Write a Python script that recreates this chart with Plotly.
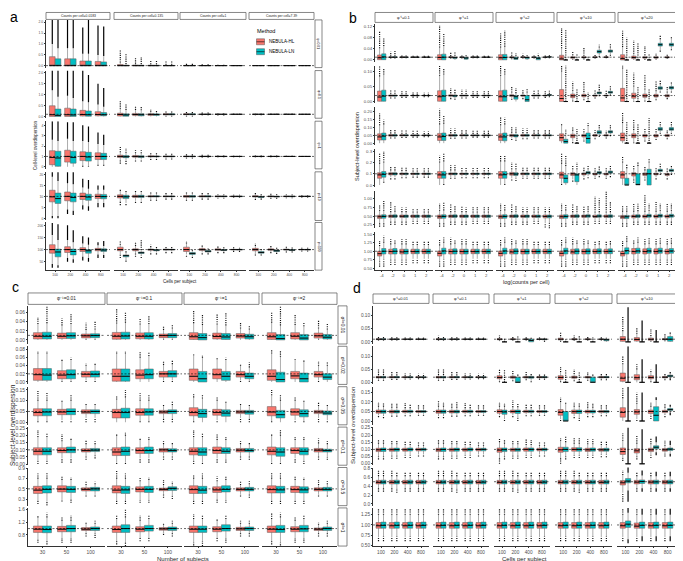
import plotly.graph_objects as go

W, H = 683, 561
HL_COLOR = "#F8766D"
LN_COLOR = "#00BFC4"
FONT = "Liberation Sans"

# Each box: (lowest outlier, lower whisker, q1, median, q3, upper whisker, highest outlier)

# ---------------- panel a (values in data units) ----------------
A_COL_LABELS = ["Counts per cell=0.0183", "Counts per cell=0.135", "Counts per cell=1", "Counts per cell=7.39"]
A_ROW_LABELS = ["φ=0.01", "φ=0.1", "φ=1", "φ=10", "φ=100"]
A_TRUE = [0.01, 0.1, 1, 10, 100]
A_X_LABELS = ["100", "200", "400", "800"]
A_HL = [
    [[(0,0,0,0.01,0.42,1.0,2.1),(0,0,0,0.01,0.32,0.8,2.1),(0,0,0,0.01,0.22,0.55,1.75),(0,0,0,0.01,0.2,0.5,1.85)],
     [(0,0,0,0.01,0.06,0.15,0.75),(0,0,0,0.01,0.04,0.1,0.4),(0,0,0,0.01,0.03,0.07,0.27),(0,0,0,0.01,0.02,0.05,0.22)],
     [(0,0,0,0.01,0.02,0.04,0.1),(0,0,0.002,0.01,0.015,0.03,0.07),(0,0,0.004,0.01,0.014,0.025,0.05),(0,0,0.006,0.01,0.013,0.02,0.04)],
     [(0,0,0.006,0.01,0.013,0.02,0.03),(0,0.002,0.007,0.01,0.012,0.017,0.025),(0,0.004,0.008,0.01,0.011,0.015,0.02),(0.002,0.005,0.009,0.01,0.011,0.014,0.018)]],
    [[(0,0,0,0.08,0.49,1.2,2.1),(0,0,0,0.08,0.38,0.95,2.1),(0,0,0.02,0.09,0.28,0.7,2.1),(0,0,0.03,0.09,0.22,0.55,1.5)],
     [(0,0,0.02,0.09,0.15,0.35,0.75),(0,0,0.04,0.09,0.14,0.3,0.45),(0,0,0.05,0.095,0.13,0.22,0.33),(0,0.02,0.07,0.1,0.12,0.18,0.28)],
     [(0,0.02,0.08,0.1,0.12,0.16,0.22),(0.03,0.05,0.09,0.1,0.11,0.14,0.18),(0.05,0.07,0.095,0.1,0.105,0.125,0.15),(0.07,0.08,0.097,0.1,0.103,0.115,0.13)],
     [(0.06,0.075,0.095,0.1,0.105,0.125,0.14),(0.07,0.08,0.097,0.1,0.103,0.115,0.13),(0.08,0.085,0.098,0.1,0.102,0.11,0.12),(0.085,0.09,0.099,0.1,0.101,0.107,0.115)]],
    [[(0,0,0.2,0.9,1.55,2.6,4.4),(0,0,0.45,1.0,1.6,2.7,4.3),(0,0.1,0.6,1.0,1.45,2.5,4.0),(0.1,0.2,0.7,1.0,1.35,2.2,3.3)],
     [(0.3,0.6,0.9,1.0,1.12,1.4,1.9),(0.5,0.7,0.92,1.0,1.08,1.3,1.6),(0.65,0.8,0.95,1.0,1.06,1.2,1.4),(0.7,0.85,0.96,1.0,1.04,1.15,1.3)],
     [(0.8,0.88,0.97,1.0,1.03,1.1,1.2),(0.85,0.9,0.98,1.0,1.02,1.07,1.15),(0.9,0.93,0.985,1.0,1.015,1.05,1.1),(0.93,0.95,0.99,1.0,1.01,1.04,1.07)],
     [(0.9,0.93,0.985,1.0,1.015,1.05,1.1),(0.92,0.95,0.99,1.0,1.01,1.04,1.08),(0.94,0.96,0.992,1.0,1.008,1.03,1.06),(0.95,0.97,0.995,1.0,1.005,1.02,1.05)]],
    [[(0,1,7.5,9.8,12.8,19,21),(2,4,8,10,12,16,21),(4,6,8.6,10,11.5,14,18),(5,7,9,10,11,13,15)],
     [(6,7.5,9.3,10,10.7,12.5,13.5),(7,8,9.5,10,10.5,12,13),(8,8.5,9.7,10,10.3,11.3,12),(8.5,9,9.8,10,10.2,11,11.5)],
     [(8,8.5,9.6,10,10.4,11.3,12),(8.5,9,9.7,10,10.3,11,11.5),(9,9.3,9.8,10,10.2,10.7,11),(9.3,9.5,9.85,10,10.15,10.5,10.8)],
     [(8.3,8.8,9.7,10,10.3,11,11.7),(8.8,9.2,9.8,10,10.2,10.8,11.2),(9.2,9.4,9.85,10,10.15,10.6,10.9),(9.4,9.6,9.9,10,10.1,10.4,10.6)]],
    [[(25,40,85,100,120,160,210),(50,65,88,100,112,140,200),(55,70,92,100,108,125,155),(65,80,95,100,105,118,130)],
     [(65,80,95,100,110,120,135),(70,85,95,100,103,115,130),(80,88,97,100,102,110,120),(85,92,98,100,102,106,112)],
     [(70,80,92,100,110,125,135),(80,88,96,100,104,112,120),(85,92,97,100,103,108,115),(90,94,99,100,101,105,110)],
     [(75,85,95,100,105,115,125),(85,90,97,100,103,110,118),(88,92,98,100,102,107,112),(92,95,99,100,101,104,108)]],
]
A_LN = [
    [[(0,0,0,0.01,0.32,0.8,2.1),(0,0,0,0.01,0.32,0.8,2.1),(0,0,0,0.01,0.22,0.55,2.1),(0,0,0,0.01,0.18,0.45,1.8)],
     [(0,0,0,0.01,0.03,0.08,0.55),(0,0,0,0.01,0.03,0.08,0.4),(0,0,0,0.01,0.03,0.07,0.27),(0,0,0,0.01,0.02,0.05,0.2)],
     [(0,0,0,0.01,0.02,0.04,0.1),(0,0,0.002,0.01,0.015,0.03,0.07),(0,0,0.004,0.01,0.014,0.025,0.05),(0,0,0.006,0.01,0.013,0.02,0.04)],
     [(0,0,0.006,0.01,0.013,0.02,0.03),(0,0.002,0.007,0.01,0.012,0.017,0.025),(0,0.004,0.008,0.01,0.011,0.015,0.02),(0.002,0.005,0.009,0.01,0.011,0.014,0.018)]],
    [[(0,0,0,0.05,0.34,0.9,2.1),(0,0,0,0.07,0.34,0.85,2.1),(0,0,0.01,0.08,0.25,0.65,1.9),(0,0,0.03,0.08,0.18,0.45,1.3)],
     [(0,0,0.01,0.07,0.12,0.3,0.6),(0,0,0.03,0.08,0.13,0.28,0.45),(0,0,0.05,0.09,0.12,0.2,0.3),(0,0.02,0.07,0.1,0.12,0.18,0.28)],
     [(0,0.02,0.08,0.1,0.12,0.16,0.22),(0.03,0.05,0.09,0.1,0.11,0.14,0.18),(0.05,0.07,0.095,0.1,0.105,0.125,0.15),(0.07,0.08,0.097,0.1,0.103,0.115,0.13)],
     [(0.06,0.075,0.095,0.1,0.105,0.125,0.14),(0.07,0.08,0.097,0.1,0.103,0.115,0.13),(0.08,0.085,0.098,0.1,0.102,0.11,0.12),(0.085,0.09,0.099,0.1,0.101,0.107,0.115)]],
    [[(0,0,0.05,0.85,1.5,2.5,4.4),(0,0,0.35,0.9,1.5,2.5,4.3),(0,0.05,0.55,0.95,1.4,2.4,3.9),(0.1,0.2,0.7,1.0,1.3,2.1,3.1)],
     [(0.25,0.55,0.88,0.97,1.08,1.35,1.8),(0.5,0.7,0.9,0.98,1.07,1.3,1.6),(0.65,0.8,0.95,1.0,1.05,1.2,1.4),(0.7,0.85,0.96,1.0,1.04,1.15,1.3)],
     [(0.8,0.88,0.97,1.0,1.03,1.1,1.2),(0.85,0.9,0.98,1.0,1.02,1.07,1.15),(0.9,0.93,0.985,1.0,1.015,1.05,1.1),(0.93,0.95,0.99,1.0,1.01,1.04,1.07)],
     [(0.9,0.93,0.985,1.0,1.015,1.05,1.1),(0.92,0.95,0.99,1.0,1.01,1.04,1.08),(0.94,0.96,0.992,1.0,1.008,1.03,1.06),(0.95,0.97,0.995,1.0,1.005,1.02,1.05)]],
    [[(0,1,6.8,9.0,11.5,17,21),(1.5,3.5,7.5,9.5,11.5,15.5,21),(3.5,5.5,8.2,9.7,11,13.5,17.5),(5,7,8.9,9.9,10.9,13,15)],
     [(6,7,9,9.8,10.5,12,13),(7,8,9.5,10,10.5,12,13),(8,8.5,9.7,10,10.3,11.3,12),(8.5,9,9.8,10,10.2,11,11.5)],
     [(8,8.5,9.6,10,10.4,11.3,12),(8.5,9,9.7,10,10.3,11,11.5),(9,9.3,9.8,10,10.2,10.7,11),(9.3,9.5,9.85,10,10.15,10.5,10.8)],
     [(8.5,9,9.5,9.8,10,10.5,11),(8.8,9.2,9.7,9.9,10.1,10.6,11),(9.2,9.4,9.8,10,10.15,10.6,10.9),(9.4,9.6,9.9,10,10.1,10.4,10.6)]],
    [[(25,35,70,90,102,140,205),(45,60,78,92,102,130,180),(50,65,85,95,100,120,150),(65,78,92,98,103,115,135)],
     [(50,60,70,75,78,88,95),(65,75,84,87,90,98,140),(80,88,95,98,100,106,115),(85,92,98,100,101,106,112)],
     [(65,70,80,84,88,95,102),(80,85,90,93,96,100,108),(85,90,96,98,100,105,112),(90,94,98,100,101,104,108)],
     [(75,80,85,88,92,98,105),(82,88,92,95,98,103,110),(88,92,96,98,100,104,110),(92,95,98,100,101,104,107)]],
]

# ---------------- panel b (values in % of the true sigma^2) ----------------
B_COL_LABELS = ["φ⁻¹=0.1", "φ⁻¹=1", "φ⁻¹=2", "φ⁻¹=10", "φ⁻¹=20"]
B_ROW_LABELS = ["σ²=0.01", "σ²=0.02", "σ²=0.05", "σ²=0.1", "σ²=0.5", "σ²=1"]
B_TRUE = [0.01, 0.02, 0.05, 0.1, 0.5, 1]
B_X_LABELS = ["-4", "-2", "0", "1", "2"]
B_HL_PCT = [
    [[(0,0,10,80,180,420,1050),(50,70,90,100,110,130,300),(60,80,93,100,107,120,200),(70,85,95,100,105,115,170),(75,88,96,100,104,112,160)],
     [(0,0,10,90,190,450,1250),(40,60,85,100,115,140,300),(50,75,92,100,108,125,200),(60,80,94,100,106,120,180),(70,85,95,100,105,115,160)],
     [(0,0,5,80,190,450,950),(30,50,75,95,115,150,280),(40,65,88,100,112,135,220),(50,75,92,100,108,125,200),(60,80,94,100,106,120,180)],
     [(0,0,0,40,170,420,1150),(0,20,60,90,120,170,300),(20,50,75,95,115,150,450),(50,70,85,98,115,140,200),(60,80,90,100,112,130,180)],
     [(0,0,0,50,190,470,1050),(0,10,50,90,140,220,700),(0,30,65,90,120,170,500),(20,40,65,90,120,160,250),(40,60,75,95,115,150,220)]],
    [[(0,0,5,75,175,420,600),(50,70,90,100,110,130,200),(60,80,94,100,106,120,170),(65,85,95,100,105,115,160),(70,88,96,100,104,112,150)],
     [(0,0,5,80,180,430,600),(40,60,88,100,112,140,220),(50,70,92,100,108,125,200),(60,80,94,100,106,120,170),(60,80,94,100,106,120,170)],
     [(0,0,5,80,180,430,600),(30,55,85,100,115,150,250),(40,65,90,100,110,135,200),(50,70,92,100,108,125,180),(60,80,94,100,106,120,170)],
     [(0,0,0,50,200,500,600),(0,20,65,95,125,180,330),(20,45,80,100,120,160,330),(50,70,90,100,110,130,200),(60,80,93,100,108,125,180)],
     [(0,0,0,60,220,550,600),(0,10,55,90,140,250,480),(0,30,70,95,125,200,450),(20,45,75,95,120,170,350),(40,60,80,95,115,150,250)]],
    [[(0,0,40,80,120,230,380),(60,75,90,100,110,125,180),(65,80,92,100,108,120,170),(70,85,94,100,106,117,160),(75,88,95,100,105,115,150)],
     [(0,0,35,80,125,240,440),(55,70,90,100,110,128,190),(60,78,92,100,108,122,170),(70,84,94,100,106,118,160),(70,84,94,100,106,118,160)],
     [(0,0,35,80,120,230,340),(40,60,85,100,112,135,220),(50,70,90,100,110,128,190),(60,78,92,100,108,122,170),(60,78,92,100,108,122,170)],
     [(0,0,30,70,120,230,260),(0,20,70,95,115,160,200),(20,50,80,98,112,140,180),(50,70,90,100,110,130,170),(60,78,92,100,108,125,160)],
     [(0,0,30,70,130,260,400),(0,10,70,95,120,170,300),(20,50,80,98,112,140,190),(40,60,80,95,110,140,190),(50,70,85,97,112,135,170)]],
    [[(0,0,60,90,110,190,280),(50,70,90,100,110,130,170),(60,75,93,100,107,125,160),(65,80,94,100,106,120,155),(65,80,94,100,106,120,155)],
     [(0,0,60,90,120,200,260),(55,70,92,100,108,130,175),(60,78,94,100,106,122,160),(60,78,94,100,106,122,160),(60,78,94,100,106,122,160)],
     [(0,0,60,90,120,210,260),(40,60,88,100,112,140,200),(55,75,92,100,108,125,165),(55,75,92,100,108,125,165),(55,75,92,100,108,125,165)],
     [(0,10,60,90,115,190,280),(30,50,85,100,110,140,180),(50,70,90,100,108,125,160),(55,75,90,98,105,120,160),(55,75,90,98,105,120,160)],
     [(0,0,60,90,120,200,250),(20,50,80,100,110,140,180),(40,65,85,98,108,130,170),(50,70,90,98,105,120,160),(50,70,85,95,103,118,150)]],
    [[(40,60,86,96,105,130,160),(50,70,92,100,106,122,180),(50,70,92,99,106,122,150),(55,72,92,100,106,120,145),(55,72,92,100,106,120,145)],
     [(40,60,86,96,106,130,170),(50,70,92,100,106,122,170),(50,70,92,100,106,122,160),(55,72,92,100,106,120,150),(55,72,92,100,106,120,150)],
     [(40,60,86,96,106,130,170),(50,70,92,100,106,122,170),(50,70,92,99,106,122,150),(55,72,92,99,106,120,150),(35,60,90,98,106,122,150)],
     [(40,60,86,96,106,130,170),(50,70,92,100,106,122,170),(50,70,92,100,106,122,160),(55,72,92,97,105,120,210),(55,72,92,99,106,120,240)],
     [(40,60,86,95,104,125,160),(50,70,90,98,106,125,170),(50,70,90,98,106,125,220),(50,70,90,98,106,125,180),(50,70,90,98,106,125,170)]],
    [[(55,70,86,93,100,115,130),(60,75,92,99,106,120,135),(60,75,92,98,106,120,135),(65,78,93,99,106,118,130),(65,78,93,99,106,118,130)],
     [(55,70,86,94,101,117,135),(60,75,92,99,106,120,140),(60,75,92,99,106,120,135),(65,78,93,99,106,118,130),(65,78,93,99,106,118,130)],
     [(55,70,86,94,101,117,135),(60,75,92,98,106,120,135),(60,75,92,99,106,120,135),(65,78,93,99,106,118,130),(65,78,93,99,106,118,130)],
     [(55,70,86,94,101,117,135),(60,75,92,98,106,120,140),(60,75,92,99,106,120,135),(65,78,93,99,106,118,130),(65,78,93,99,106,118,130)],
     [(55,70,86,93,100,115,130),(60,75,92,99,108,122,135),(60,75,92,99,107,120,135),(60,75,92,99,107,120,135),(60,75,92,99,106,120,135)]],
]
B_LN_PCT = [
    [[(0,0,10,110,220,500,800),(50,70,90,100,112,130,320),(60,80,93,100,108,122,190),(70,85,95,100,105,115,170),(75,88,96,100,104,112,160)],
     [(0,0,5,100,210,500,950),(0,0,50,85,110,150,280),(0,0,30,70,95,130,180),(60,80,93,100,107,120,170),(70,85,95,100,105,115,160)],
     [(0,0,5,90,200,480,1050),(0,0,20,60,100,150,250),(0,0,40,90,105,130,200),(0,0,5,60,95,140,220),(60,85,100,110,118,130,190)],
     [(0,0,0,0,0,0,1100),(0,0,0,0,0,0,200),(0,0,0,0,0,0,150),(100,150,250,300,350,450,550),(150,200,280,320,360,450,600)],
     [(0,0,0,0,0,0,800),(0,0,0,0,0,0,600),(0,0,0,0,0,0,200),(300,350,500,550,600,750,900),(350,400,500,550,600,780,850)]],
    [[(0,0,5,90,190,450,560),(50,70,90,100,110,130,200),(60,80,94,100,106,120,170),(65,85,95,100,105,115,160),(70,88,96,100,104,112,150)],
     [(0,0,5,90,190,450,560),(30,50,80,95,110,140,200),(50,70,92,100,108,125,200),(60,80,94,100,106,120,170),(60,80,94,100,106,120,170)],
     [(0,0,5,80,190,450,550),(0,0,40,80,100,140,220),(0,0,0,30,100,150,220),(50,70,92,100,110,130,190),(70,90,100,110,118,130,180)],
     [(0,0,0,0,0,0,600),(0,0,0,0,0,0,200),(0,0,0,0,0,0,150),(90,110,130,145,160,190,280),(100,120,140,155,170,200,260)],
     [(0,0,0,0,0,0,550),(0,0,0,0,0,0,250),(0,0,0,0,0,0,200),(150,180,205,225,245,290,350),(150,180,210,230,250,300,340)]],
    [[(0,0,40,90,130,240,300),(60,75,90,100,110,125,180),(65,80,92,100,108,120,170),(70,85,94,100,106,117,160),(75,88,95,100,105,115,150)],
     [(0,0,35,85,130,250,350),(55,70,90,100,110,128,190),(60,78,92,100,108,122,170),(70,84,94,100,106,118,160),(70,84,94,100,106,118,160)],
     [(0,0,30,80,130,240,330),(30,50,80,95,110,135,200),(50,70,90,100,110,128,190),(60,78,92,100,108,122,170),(60,78,92,100,108,122,170)],
     [(0,0,0,20,50,120,180),(0,0,0,0,0,0,180),(0,0,0,60,130,220,260),(80,100,120,140,160,190,240),(90,110,130,145,160,190,230)],
     [(0,0,0,0,0,0,280),(0,0,0,0,0,0,250),(0,0,0,0,0,0,320),(120,140,165,180,200,230,280),(120,145,165,180,200,230,270)]],
    [[(20,30,70,95,120,200,300),(50,70,90,100,110,130,170),(60,75,93,100,107,125,160),(65,80,94,100,106,120,155),(65,80,94,100,106,120,155)],
     [(0,10,60,90,120,210,290),(55,70,92,100,108,130,175),(60,78,94,100,106,122,160),(60,78,94,100,106,122,160),(60,78,94,100,106,122,160)],
     [(0,10,60,92,120,210,270),(35,55,85,97,110,140,190),(55,75,92,100,108,125,165),(55,75,92,100,108,125,165),(55,75,92,100,108,125,165)],
     [(0,0,20,60,90,170,260),(0,0,30,90,100,140,200),(60,80,100,110,120,140,180),(70,85,100,110,120,135,170),(70,90,105,115,125,140,180)],
     [(0,0,0,0,60,150,180),(0,0,0,5,100,170,200),(0,0,0,100,140,200,230),(90,105,120,130,140,160,190),(90,105,120,130,140,160,180)]],
    [[(40,62,88,98,108,130,185),(50,70,92,100,107,125,160),(50,70,92,100,106,122,150),(55,72,92,100,106,120,145),(55,72,92,100,106,120,145)],
     [(40,60,88,98,108,132,180),(50,70,92,100,107,124,160),(50,70,92,100,106,122,150),(55,72,92,100,106,120,150),(55,72,92,100,106,120,150)],
     [(40,60,88,98,108,132,170),(50,70,92,100,107,124,160),(50,70,92,100,106,122,150),(55,72,92,99,106,120,150),(30,60,90,99,106,122,150)],
     [(40,60,88,98,108,132,170),(50,70,92,100,107,124,160),(50,70,93,101,108,124,160),(55,72,93,100,107,122,200),(55,72,92,100,107,122,180)],
     [(40,60,86,96,104,125,160),(50,70,92,100,108,128,170),(50,70,94,102,110,130,170),(50,70,94,102,110,130,170),(50,70,94,102,110,130,170)]],
    [[(55,75,92,100,108,125,145),(60,75,92,100,108,122,135),(60,75,92,99,106,120,135),(65,78,93,99,106,118,130),(65,78,93,99,106,118,130)],
     [(55,75,92,101,109,125,140),(60,75,92,100,107,122,135),(60,75,92,99,106,120,135),(65,78,93,99,106,118,130),(65,78,93,99,106,118,130)],
     [(55,75,92,101,109,125,140),(60,75,92,100,107,122,135),(60,75,92,99,106,120,135),(65,78,93,99,106,118,130),(65,78,93,99,106,118,130)],
     [(55,75,92,101,109,125,140),(60,75,92,100,107,122,135),(60,75,92,100,107,122,135),(65,78,93,100,107,120,130),(65,78,93,100,107,120,130)],
     [(55,75,92,102,110,128,145),(60,75,94,101,109,125,140),(60,75,94,101,109,122,140),(60,75,94,101,109,122,140),(60,75,94,101,108,122,140)]],
]

# ---------------- panel c (values in % of the true sigma^2) ----------------
C_COL_LABELS = ["φ⁻¹=0.01", "φ⁻¹=0.1", "φ⁻¹=1", "φ⁻¹=2"]
C_ROW_LABELS = ["σ²=0.01", "σ²=0.02", "σ²=0.05", "σ²=0.1", "σ²=0.5", "σ²=1"]
C_TRUE = [0.01, 0.02, 0.05, 0.1, 0.5, 1]
C_X_LABELS = ["30", "50", "100"]
C_HL_PCT = [
    [[(0,0,20,80,160,350,500),(0,0,30,80,150,320,480),(0,10,45,90,130,220,380)],
     [(0,0,15,80,165,360,700),(0,0,25,80,155,340,480),(0,10,50,95,130,220,320)],
     [(0,0,10,70,160,370,650),(0,0,20,75,150,340,570),(0,0,40,85,140,250,380)],
     [(0,0,10,70,160,380,600),(0,0,20,80,160,330,560),(0,10,40,90,150,250,420)]],
    [[(0,0,20,90,165,350,380),(0,10,40,85,140,260,280),(0,20,60,95,130,200,230)],
     [(0,0,10,70,160,350,380),(0,0,40,85,150,300,380),(0,20,60,100,130,210,260)],
     [(0,0,20,70,160,330,340),(0,0,40,90,160,280,300),(0,20,60,90,130,200,220)],
     [(0,0,20,70,150,350,390),(0,0,40,75,130,270,280),(0,20,60,90,130,200,260)]],
    [[(0,10,60,90,125,200,290),(0,20,70,95,120,190,210),(0,40,80,95,115,160,180)],
     [(0,0,40,90,120,210,240),(0,10,65,90,125,200,270),(0,30,80,95,110,150,170)],
     [(0,10,60,90,135,230,260),(0,20,65,90,120,200,240),(0,40,80,95,110,160,170)],
     [(0,10,60,95,145,250,300),(0,20,65,95,125,200,230),(0,40,80,95,110,150,190)]],
    [[(0,20,65,90,115,190,240),(10,40,80,95,115,160,210),(30,55,85,95,108,140,170)],
     [(0,10,60,85,115,200,210),(10,40,75,95,115,170,180),(30,60,85,100,110,140,160)],
     [(0,20,65,90,115,190,240),(10,40,75,95,120,170,210),(30,55,85,98,110,140,160)],
     [(0,10,65,90,120,200,210),(10,40,75,95,115,170,190),(30,55,85,98,110,145,180)]],
    [[(40,55,82,95,110,140,160),(50,60,88,99,112,135,150),(70,80,92,98,104,115,130)],
     [(40,55,84,95,112,140,170),(45,55,88,98,108,130,145),(65,80,93,98,103,115,135)],
     [(40,55,82,97,112,140,155),(45,60,86,96,108,130,150),(70,80,92,98,104,115,130)],
     [(40,55,84,97,112,140,165),(40,55,86,97,110,135,150),(70,80,92,98,104,115,135)]],
    [[(55,65,88,98,108,135,140),(55,70,90,98,107,125,135),(75,85,94,98,103,115,120)],
     [(50,60,88,97,108,130,140),(60,70,90,98,106,125,140),(80,88,95,99,103,112,115)],
     [(40,55,88,98,108,130,145),(60,70,90,98,106,125,130),(75,85,94,99,104,115,125)],
     [(50,60,88,98,108,130,150),(55,70,90,98,106,125,135),(75,85,94,98,102,112,120)]],
]
C_LN_PCT = [
    [[(0,0,20,80,170,370,750),(0,0,30,90,160,350,580),(0,10,50,95,135,230,420)],
     [(0,0,20,85,170,380,600),(0,0,20,80,160,350,520),(0,10,50,100,140,250,330)],
     [(0,0,0,50,140,330,550),(0,0,10,65,140,320,590),(0,0,20,70,125,230,330)],
     [(0,0,0,30,120,320,740),(0,0,0,40,120,300,380),(0,0,20,60,120,230,350)]],
    [[(0,0,20,85,165,350,380),(0,10,40,90,150,270,300),(0,20,60,95,135,210,230)],
     [(0,0,10,70,160,350,380),(0,0,40,90,160,320,370),(0,20,60,100,140,220,270)],
     [(0,0,0,40,130,300,330),(0,0,20,70,130,270,300),(0,10,40,70,110,180,240)],
     [(0,0,0,30,120,310,380),(0,0,0,40,110,250,270),(0,0,30,60,100,200,240)]],
    [[(0,10,60,95,125,200,280),(0,20,70,100,125,200,260),(0,40,80,100,115,160,180)],
     [(0,0,40,90,130,230,300),(0,10,65,95,125,200,260),(0,30,80,100,115,160,190)],
     [(0,0,45,80,120,220,260),(0,0,55,85,115,180,200),(0,30,75,95,110,150,170)],
     [(0,0,40,70,110,200,250),(0,10,50,80,115,190,200),(0,20,70,85,105,150,160)]],
    [[(0,20,65,90,115,190,220),(10,40,80,100,120,170,180),(40,60,88,98,110,140,160)],
     [(0,10,60,90,120,200,220),(10,40,75,95,120,170,190),(30,60,85,95,108,140,150)],
     [(0,10,60,85,115,190,220),(10,30,75,90,115,170,190),(30,55,85,95,110,140,150)],
     [(0,10,55,85,115,200,240),(0,20,65,90,115,170,190),(30,50,85,95,105,140,160)]],
    [[(35,50,84,98,112,140,165),(45,60,86,98,110,135,145),(70,80,92,100,106,118,128)],
     [(40,55,82,96,110,140,160),(45,55,86,98,110,135,145),(60,75,94,102,108,120,130)],
     [(40,55,82,95,110,140,160),(45,55,88,98,112,135,150),(65,80,92,98,106,118,130)],
     [(40,55,84,96,110,140,165),(40,55,84,96,108,135,145),(70,80,92,98,106,118,130)]],
    [[(50,60,87,97,108,135,150),(55,70,90,100,110,125,140),(70,85,94,100,105,115,125)],
     [(45,55,88,100,112,135,160),(60,70,92,100,110,130,140),(75,85,94,100,105,115,125)],
     [(45,60,88,98,108,130,140),(55,70,92,100,112,130,140),(75,85,94,100,105,115,125)],
     [(40,55,88,97,110,135,150),(55,70,90,99,110,130,140),(75,85,94,100,105,115,125)]],
]

# ---------------- panel d (values in % of the true sigma^2) ----------------
D_COL_LABELS = ["φ⁻¹=0.01", "φ⁻¹=0.1", "φ⁻¹=1", "φ⁻¹=2", "φ⁻¹=10"]
D_ROW_LABELS = ["σ²=0.01", "σ²=0.02", "σ²=0.05", "σ²=0.1", "σ²=0.5", "σ²=1"]
D_TRUE = [0.01, 0.02, 0.05, 0.1, 0.5, 1]
D_X_LABELS = ["100", "200", "400", "800"]
D_HL_PCT = [
    [[(40,60,85,100,115,140,200),(50,70,88,100,112,130,180),(60,75,90,100,110,125,170),(65,80,92,100,108,120,160)],
     [(40,60,85,100,115,140,230),(50,70,88,100,112,130,180),(60,75,90,100,110,125,170),(65,80,92,100,108,120,160)],
     [(30,50,80,100,120,150,250),(40,60,85,100,115,140,200),(50,70,88,100,112,130,180),(60,75,90,100,110,125,170)],
     [(0,30,70,100,140,220,350),(30,50,80,100,120,150,250),(40,60,85,100,115,140,200),(50,70,88,100,112,130,170)],
     [(0,0,20,100,200,400,950),(0,0,30,90,160,300,550),(0,20,60,95,140,220,480),(20,50,80,100,120,160,300)]],
    [[(30,55,85,100,115,145,250),(45,65,88,100,112,135,210),(55,72,90,100,110,128,180),(60,78,92,100,108,122,170)],
     [(30,55,85,100,115,145,250),(45,65,88,100,112,135,210),(55,72,90,100,110,128,180),(60,78,92,100,108,122,170)],
     [(0,30,70,95,130,180,250),(20,50,80,100,120,160,220),(40,60,85,100,115,140,200),(50,70,88,100,112,130,170)],
     [(0,20,60,95,130,200,300),(20,50,80,100,120,160,250),(30,55,85,100,115,150,200),(40,65,88,100,112,140,180)],
     [(0,0,20,80,180,350,500),(0,0,50,90,150,250,350),(0,20,70,95,130,200,250),(40,60,88,100,112,140,170)]],
    [[(40,60,82,98,115,150,200),(45,65,85,98,112,140,190),(50,70,88,100,112,135,190),(55,75,90,100,110,130,170)],
     [(30,55,82,98,115,150,220),(45,65,85,98,112,140,190),(50,70,88,100,112,135,190),(55,75,90,100,110,130,170)],
     [(40,60,82,100,118,150,200),(40,60,85,100,115,145,220),(50,70,88,100,112,135,180),(55,75,90,100,110,130,170)],
     [(0,20,60,90,120,200,250),(30,50,80,98,115,150,200),(40,60,85,100,112,140,200),(50,70,88,100,110,130,170)],
     [(0,0,40,90,140,240,350),(0,20,70,95,120,180,300),(20,50,80,100,115,150,200),(40,65,88,100,112,140,180)]],
    [[(30,50,85,97,108,140,170),(35,55,87,98,108,135,165),(40,60,88,98,108,130,160),(50,65,90,99,108,125,150)],
     [(30,50,85,97,108,140,170),(35,55,87,98,108,135,165),(40,60,88,98,108,130,160),(50,65,90,99,108,125,150)],
     [(0,40,80,95,110,150,180),(35,55,87,98,108,135,165),(40,60,88,100,110,130,170),(50,65,90,99,108,125,155)],
     [(0,40,80,97,115,160,180),(40,60,88,100,112,140,180),(40,60,86,97,108,135,170),(45,62,88,97,106,130,160)],
     [(20,40,65,85,110,160,210),(30,50,75,90,105,140,200),(40,60,85,97,108,135,180),(50,70,88,97,106,125,160)]],
    [[(55,70,90,97,106,125,150),(55,70,90,97,106,125,150),(55,70,90,97,106,125,145),(55,70,90,97,106,125,145)],
     [(55,70,90,97,106,125,150),(55,70,90,97,106,125,150),(55,70,90,97,106,125,145),(55,70,90,97,106,125,145)],
     [(55,70,90,97,106,125,150),(55,70,90,97,106,125,150),(55,70,90,97,106,125,145),(55,70,90,97,106,125,145)],
     [(55,70,90,97,106,125,150),(55,70,90,97,106,125,150),(55,70,90,97,106,125,145),(55,70,90,97,106,125,145)],
     [(10,50,85,95,105,130,150),(55,70,90,98,106,125,145),(55,70,90,98,106,125,145),(55,70,90,98,106,125,145)]],
    [[(60,70,92,98,106,125,140),(60,70,92,98,106,125,140),(60,70,92,98,106,125,140),(60,70,92,98,106,125,140)],
     [(60,70,92,98,106,125,140),(60,70,92,98,106,125,140),(60,70,92,98,106,125,140),(60,70,92,98,106,125,140)],
     [(60,70,92,98,106,125,140),(60,70,92,98,106,125,140),(60,70,92,98,106,125,140),(60,70,92,98,106,125,140)],
     [(60,70,92,98,106,125,140),(60,70,92,98,106,125,140),(60,70,92,98,106,125,140),(60,70,92,98,106,125,140)],
     [(60,70,92,98,106,125,140),(60,70,92,97,105,125,140),(60,70,92,98,106,125,140),(60,70,92,98,106,125,140)]],
]
D_LN_PCT = [
    [[(40,60,85,100,115,140,200),(50,70,88,100,112,130,180),(60,75,90,100,110,125,170),(65,80,92,100,108,120,160)],
     [(40,60,85,100,115,140,200),(50,70,88,100,112,130,180),(60,75,90,100,110,125,170),(65,80,92,100,108,120,160)],
     [(0,0,0,0,0,0,120),(0,0,0,0,0,0,200),(0,0,0,50,100,120,150),(0,40,80,100,110,130,150)],
     [(0,0,0,0,0,0,100),(0,0,0,0,0,0,250),(0,0,0,0,0,0,180),(0,0,40,80,100,130,150)],
     [(0,0,0,0,0,0,1300),(0,0,0,0,0,0,800),(0,0,0,0,0,0,450),(0,0,20,100,200,300,350)]],
    [[(30,55,85,100,115,145,250),(45,65,88,100,112,135,210),(55,72,90,100,110,128,180),(60,78,92,100,108,122,170)],
     [(30,55,85,100,115,145,250),(45,65,88,100,112,135,210),(55,72,90,100,110,128,180),(60,78,92,100,108,122,170)],
     [(0,0,0,0,0,0,240),(0,0,0,0,100,130,160),(0,30,80,100,115,140,180),(50,70,88,100,112,130,170)],
     [(0,0,0,0,0,0,250),(0,0,0,0,0,0,200),(0,0,0,0,100,130,170),(40,65,90,100,112,140,180)],
     [(0,0,0,0,0,0,700),(0,0,0,0,0,0,450),(0,0,0,0,0,0,350),(40,80,110,125,140,170,200)]],
    [[(30,55,82,98,115,150,190),(45,65,85,98,112,140,190),(50,70,88,100,112,135,180),(55,75,90,100,110,130,170)],
     [(30,55,82,98,115,150,200),(45,65,85,98,112,140,200),(50,70,88,100,112,135,180),(55,75,90,100,110,130,170)],
     [(0,20,70,95,115,150,180),(0,40,80,100,115,145,180),(50,70,88,100,112,135,180),(55,75,90,100,110,130,170)],
     [(0,0,0,0,100,180,200),(0,40,80,100,115,150,190),(40,60,85,100,112,140,190),(50,70,88,100,110,130,170)],
     [(0,0,0,0,0,0,360),(0,0,0,0,0,0,300),(0,0,0,60,150,220,250),(60,90,110,120,130,150,170)]],
    [[(30,50,86,99,110,140,170),(35,55,88,99,109,135,165),(40,60,89,100,110,130,160),(50,65,90,100,108,125,150)],
     [(30,50,86,99,110,140,170),(35,55,88,99,109,135,165),(40,60,89,100,110,130,160),(50,65,90,100,108,125,150)],
     [(30,50,85,98,110,140,170),(35,55,87,98,108,135,165),(40,60,88,100,110,130,165),(50,65,90,100,108,125,150)],
     [(30,50,85,100,115,150,190),(40,60,88,100,112,140,180),(40,60,88,98,110,135,170),(45,62,88,97,108,130,160)],
     [(0,0,0,0,0,0,250),(0,0,0,0,0,0,240),(60,80,105,115,125,150,190),(50,70,92,102,110,130,160)]],
    [[(55,70,90,98,107,125,150),(50,70,90,98,107,125,145),(55,70,90,98,107,125,145),(55,70,90,98,107,125,145)],
     [(55,70,90,98,107,125,150),(50,70,90,98,107,125,145),(55,70,90,98,107,125,145),(55,70,90,98,107,125,145)],
     [(55,70,90,98,107,125,150),(50,70,90,98,107,125,145),(55,70,90,98,107,125,145),(55,70,90,98,107,125,145)],
     [(55,70,90,98,107,125,150),(50,70,90,98,107,125,145),(55,70,90,98,107,125,145),(55,70,90,98,107,125,145)],
     [(10,60,95,103,114,140,200),(55,70,92,101,108,128,150),(55,70,90,99,107,125,145),(55,70,90,98,107,125,145)]],
    [[(60,72,92,99,107,125,140),(60,72,92,99,107,125,140),(60,72,92,99,107,125,140),(60,72,92,99,107,125,140)],
     [(60,72,92,99,107,125,140),(60,72,92,99,107,125,140),(60,72,92,99,107,125,140),(60,72,92,99,107,125,140)],
     [(60,72,92,99,107,125,140),(60,72,92,99,107,125,140),(60,72,92,99,107,125,140),(60,72,92,99,107,125,140)],
     [(60,72,92,99,107,125,140),(60,72,92,99,107,125,140),(60,72,92,99,107,125,140),(60,72,92,99,107,125,140)],
     [(55,65,94,102,110,130,145),(60,72,92,99,107,125,140),(60,72,92,99,107,125,140),(60,72,92,99,107,125,140)]],
]

# ---------------- layout geometry (pixels) and axes ----------------
def rows_px(top, height, step, n):
    return [(top + k * step, top + k * step + height) for k in range(n)]

PANELS = [
    dict(cols_lab=A_COL_LABELS, rows_lab=A_ROW_LABELS, xlabels=A_X_LABELS, true=A_TRUE,
         hl=A_HL, ln=A_LN, unit=[1, 1, 1, 1, 1], dense_cols=[0],
         cols=[(38, 102), (106, 170), (172, 238), (241, 306)],
         rows=[(10, 58), (61, 109), (112, 160), (163, 212), (214, 262)],
         strip_y=(2.5, 9.5), rstrip_x=(307, 314),
         yranges=[[-0.08, 2.1], [-0.08, 2.1], [-0.2, 4.4], [-1, 21.2], [15, 212]],
         yticks=[[0, 0.5, 1, 1.5, 2], [0, 0.5, 1, 1.5, 2], [0, 1, 2, 3, 4], [0, 5, 10, 15, 20], [50, 100, 150, 200]],
         yticktext=[["0.0", "0.5", "1.0", "1.5", "2.0"], ["0.0", "0.5", "1.0", "1.5", "2.0"], ["0", "1", "2", "3", "4"],
                    ["0", "5", "10", "15", "20"], ["50", "100", "150", "200"]],
         tick=3.4, strip=3.4),
    dict(cols_lab=B_COL_LABELS, rows_lab=B_ROW_LABELS, xlabels=B_X_LABELS, true=B_TRUE,
         hl=B_HL_PCT, ln=B_LN_PCT, unit=[t / 100 for t in B_TRUE], dense_cols=[],
         cols=[(367, 425), (427, 485), (488, 546), (549, 607), (610, 668)],
         rows=rows_px(14, 38.0, 42.0, 6),
         strip_y=(2.5, 12.5), rstrip_x=(669, 677.5),
         yranges=[[-0.006, 0.13], [-0.006, 0.12], [-0.012, 0.23], [-0.015, 0.32], [0.15, 1.22], [0.45, 1.55]],
         yticks=[[0, 0.04, 0.08, 0.12], [0, 0.05, 0.1], [0, 0.05, 0.1, 0.15, 0.2], [0, 0.1, 0.2, 0.3],
                 [0.25, 0.5, 0.75, 1.0], [0.5, 0.75, 1.0, 1.25, 1.5]],
         yticktext=[["0.00", "0.04", "0.08", "0.12"], ["0.00", "0.05", "0.10"], ["0.00", "0.05", "0.10", "0.15", "0.20"],
                    ["0.0", "0.1", "0.2", "0.3"], ["0.25", "0.50", "0.75", "1.00"], ["0.50", "0.75", "1.00", "1.25", "1.50"]],
         tick=4.3, strip=4.0),
    dict(cols_lab=C_COL_LABELS, rows_lab=C_ROW_LABELS, xlabels=C_X_LABELS, true=C_TRUE,
         hl=C_HL_PCT, ln=C_LN_PCT, unit=[t / 100 for t in C_TRUE], dense_cols=[],
         cols=[(20, 97), (99, 174), (176, 251), (254, 329)],
         rows=rows_px(298, 38.4, 40.7, 6),
         strip_y=(285, 296.5), rstrip_x=(330, 339),
         yranges=[[-0.009, 0.075], [-0.006, 0.088], [-0.012, 0.165], [-0.008, 0.26], [0.17, 0.92], [0.45, 1.65]],
         yticks=[[0, 0.02, 0.04, 0.06], [0, 0.02, 0.04, 0.06, 0.08], [0, 0.05, 0.1, 0.15],
                 [0, 0.05, 0.1, 0.15, 0.2, 0.25], [0.3, 0.5, 0.7, 0.9], [0.8, 1.2, 1.6]],
         yticktext=[["0.00", "0.02", "0.04", "0.06"], ["0.00", "0.02", "0.04", "0.06", "0.08"], ["0.00", "0.05", "0.10", "0.15"],
                    ["0.00", "0.05", "0.10", "0.15", "0.20", "0.25"], ["0.3", "0.5", "0.7", "0.9"], ["0.8", "1.2", "1.6"]],
         tick=4.9, strip=4.8),
    dict(cols_lab=D_COL_LABELS, rows_lab=D_ROW_LABELS, xlabels=D_X_LABELS, true=D_TRUE,
         hl=D_HL_PCT, ln=D_LN_PCT, unit=[t / 100 for t in D_TRUE], dense_cols=[4],
         cols=[(365, 421), (425, 481), (486, 542), (547, 604), (609, 668)],
         rows=rows_px(298, 38.4, 40.7, 6),
         strip_y=(286, 295.5), rstrip_x=(669, 677.5),
         yranges=[[-0.008, 0.135], [-0.008, 0.14], [-0.02, 0.18], [-0.01, 0.255], [-0.04, 0.82], [0.48, 1.42]],
         yticks=[[0, 0.05, 0.1], [0, 0.05, 0.1], [0, 0.05, 0.1, 0.15], [0, 0.05, 0.1, 0.15, 0.2, 0.25],
                 [0, 0.2, 0.4, 0.6, 0.8], [0.5, 0.75, 1.0, 1.25]],
         yticktext=[["0.00", "0.05", "0.10"], ["0.00", "0.05", "0.10"], ["0.00", "0.05", "0.10", "0.15"],
                    ["0.00", "0.05", "0.10", "0.15", "0.20", "0.25"], ["0.0", "0.2", "0.4", "0.6", "0.8"],
                    ["0.50", "0.75", "1.00", "1.25"]],
         tick=4.7, strip=4.0),
]

fig = go.Figure()
layout = {}
shapes = []
annots = []
AXC = "#333333"
TXT = "#4d4d4d"
HALF = 0.1875


def px_x(p):
    return p / W


def px_y(p):
    return 1 - p / H


n = 0
for P in PANELS:
    nr, nc = len(P["rows"]), len(P["cols"])
    nx = len(P["xlabels"])
    for r in range(nr):
        for c in range(nc):
            n += 1
            xn = "x" if n == 1 else f"x{n}"
            yn = "y" if n == 1 else f"y{n}"
            xk = "xaxis" if n == 1 else f"xaxis{n}"
            yk = "yaxis" if n == 1 else f"yaxis{n}"
            bottom = r == nr - 1
            left = c == 0
            cx0, cx1 = P["cols"][c]
            ry0, ry1 = P["rows"][r]
            layout[xk] = dict(domain=[px_x(cx0), px_x(cx1)], range=[-0.6, nx - 0.4], anchor=yn,
                              tickvals=list(range(nx)), ticktext=P["xlabels"], showticklabels=bottom,
                              showline=bottom, linecolor=AXC, linewidth=0.7,
                              ticks="outside" if bottom else "", ticklen=1.2, tickwidth=0.5, tickcolor=AXC,
                              tickfont=dict(size=P["tick"], color=TXT, family=FONT),
                              showgrid=False, zeroline=False, fixedrange=True)
            layout[yk] = dict(domain=[px_y(ry1), px_y(ry0)], range=P["yranges"][r], anchor=xn,
                              tickvals=P["yticks"][r], ticktext=P["yticktext"][r], showticklabels=left,
                              showline=left, linecolor=AXC, linewidth=0.7,
                              ticks="outside" if left else "", ticklen=1.2, tickwidth=0.5, tickcolor=AXC,
                              tickfont=dict(size=P["tick"], color=TXT, family=FONT),
                              showgrid=False, zeroline=False, fixedrange=True)
            unit = P["unit"][r]
            med_x, med_y = [], []
            out = {True: ([], []), False: ([], [])}
            for boxes, colr, off, is_ln in ((P["hl"][r][c], HL_COLOR, -HALF, False), (P["ln"][r][c], LN_COLOR, HALF, True)):
                vals = [[v * unit for v in b] for b in boxes]
                xs = [i + off for i in range(len(vals))]
                fig.add_trace(go.Box(
                    x=xs, q1=[v[2] for v in vals], median=[v[3] for v in vals], q3=[v[4] for v in vals],
                    lowerfence=[v[1] for v in vals], upperfence=[v[5] for v in vals],
                    width=2 * HALF, fillcolor=colr, line=dict(color="#5a5a5a", width=0.5),
                    whiskerwidth=0, boxpoints=False, xaxis=xn, yaxis=yn,
                    showlegend=False, hoverinfo="skip"))
                dense = (c in P["dense_cols"]) and (P is PANELS[0] or is_ln)
                ox, oy = out[dense]
                for xv, v in zip(xs, vals):
                    med_x += [xv - HALF, xv + HALF, None]
                    med_y += [v[3], v[3], None]
                    if v[6] > v[5]:
                        ox += [xv, xv, None]
                        oy += [v[5], v[6], None]
                    if v[0] < v[1]:
                        ox += [xv, xv, None]
                        oy += [v[0], v[1], None]
            fig.add_trace(go.Scatter(x=out[True][0], y=out[True][1], mode="lines",
                                     line=dict(color="black", width=1.2),
                                     xaxis=xn, yaxis=yn, showlegend=False, hoverinfo="skip"))
            fig.add_trace(go.Scatter(x=out[False][0], y=out[False][1], mode="lines",
                                     line=dict(color="#111111", width=1.2, dash="1.1px,1.1px"),
                                     xaxis=xn, yaxis=yn, showlegend=False, hoverinfo="skip"))
            fig.add_trace(go.Scatter(x=med_x, y=med_y, mode="lines", line=dict(color="black", width=0.9),
                                     xaxis=xn, yaxis=yn, showlegend=False, hoverinfo="skip"))
            shapes.append(dict(type="line", xref=f"{xn} domain", x0=0, x1=1, yref=yn,
                               y0=P["true"][r], y1=P["true"][r],
                               line=dict(color="black", width=0.6, dash="2px,1.5px")))
    # column strips
    sy0, sy1 = P["strip_y"]
    for c, lab in enumerate(P["cols_lab"]):
        cx0, cx1 = P["cols"][c]
        shapes.append(dict(type="rect", xref="paper", yref="paper", x0=px_x(cx0), x1=px_x(cx1),
                           y0=px_y(sy1), y1=px_y(sy0), fillcolor="white", line=dict(color="#555555", width=0.7)))
        annots.append(dict(text=lab, xref="paper", yref="paper", x=px_x((cx0 + cx1) / 2), y=px_y((sy0 + sy1) / 2),
                           showarrow=False, font=dict(size=P["strip"], color="#1a1a1a", family=FONT),
                           xanchor="center", yanchor="middle", borderpad=0))
    # row strips
    rx0, rx1 = P["rstrip_x"]
    for r, lab in enumerate(P["rows_lab"]):
        ry0, ry1 = P["rows"][r]
        shapes.append(dict(type="rect", xref="paper", yref="paper", x0=px_x(rx0), x1=px_x(rx1),
                           y0=px_y(ry1), y1=px_y(ry0), fillcolor="white", line=dict(color="#555555", width=0.7)))
        annots.append(dict(text=lab, xref="paper", yref="paper", x=px_x((rx0 + rx1) / 2), y=px_y((ry0 + ry1) / 2),
                           showarrow=False, textangle=90, font=dict(size=P["strip"], color="#1a1a1a", family=FONT),
                           xanchor="center", yanchor="middle", borderpad=0))

# panel letters
for letter, (lx, ly) in {"a": (6, 7), "b": (345, 8), "c": (7, 279), "d": (349, 280)}.items():
    annots.append(dict(text=letter, xref="paper", yref="paper", x=px_x(lx), y=px_y(ly), showarrow=False,
                       font=dict(size=14, color="black", family=FONT), xanchor="center", yanchor="middle"))

# axis titles
TITLES = [
    ("Cell-level overdispersion", 27, 136, -90, 4.5),
    ("Cells per subject", 172, 273, 0, 4.5),
    ("Subject-level overdispersion", 349, 138, -90, 5.5),
    ("log(counts per cell)", 518, 274, 0, 5.5),
    ("Subject-level overdispersion", 5, 418, -90, 6.5),
    ("Number of subjects", 175, 553, 0, 6.0),
    ("Subject-level overdispersion", 344, 418, -90, 6.2),
    ("Cells per subject", 516, 553, 0, 6.0),
]
for txt, tx, ty, ang, sz in TITLES:
    annots.append(dict(text=txt, xref="paper", yref="paper", x=px_x(tx), y=px_y(ty), showarrow=False,
                       textangle=ang, font=dict(size=sz, color="#1a1a1a", family=FONT),
                       xanchor="center", yanchor="middle", borderpad=0))

# legend (panel a)
annots.append(dict(text="Method", xref="paper", yref="paper", x=px_x(247), y=px_y(21), showarrow=False,
                   font=dict(size=5.5, color="black", family=FONT), xanchor="left", yanchor="middle"))
for k, (name, colr) in enumerate((("NEBULA-HL", HL_COLOR), ("NEBULA-LN", LN_COLOR))):
    ky0 = 29 + k * 10
    shapes.append(dict(type="rect", xref="paper", yref="paper", x0=px_x(248.5), x1=px_x(256.5),
                       y0=px_y(ky0 + 6), y1=px_y(ky0), fillcolor=colr, line=dict(color="#555555", width=0.5)))
    shapes.append(dict(type="line", xref="paper", yref="paper", x0=px_x(248.5), x1=px_x(256.5),
                       y0=px_y(ky0 + 3), y1=px_y(ky0 + 3), line=dict(color="black", width=0.6)))
    annots.append(dict(text=name, xref="paper", yref="paper", x=px_x(259), y=px_y(ky0 + 3), showarrow=False,
                       font=dict(size=4.5, color="black", family=FONT), xanchor="left", yanchor="middle"))

fig.update_layout(width=W, height=H, margin=dict(l=0, r=0, t=0, b=0), autosize=False,
                  paper_bgcolor="white", plot_bgcolor="white", showlegend=False, boxmode="overlay",
                  shapes=shapes, annotations=annots, font=dict(family=FONT), **layout)

fig.write_html("out.html")
